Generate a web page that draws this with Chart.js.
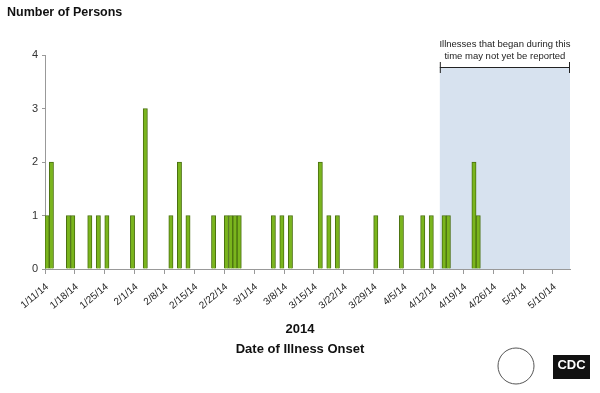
<!DOCTYPE html>
<html>
<head>
<meta charset="utf-8">
<script src="https://cdn.jsdelivr.net/npm/chart.js@4/dist/chart.umd.min.js"></script>
<style>
  html, body { margin: 0; padding: 0; background: #fff; }
  #wrap { width: 600px; height: 393px; position: relative; }
</style>
</head>
<body>
<div id="wrap"><canvas id="chart"></canvas></div>
<script>
// ==== DATA ====
const firstDay = "2014-01-11";      // first day on the axis
const dayCount = 123;               // 1/11/14 .. 5/13/14
const onsetDates = ["1/11/14", "1/12/14", "1/16/14", "1/17/14", "1/21/14", "1/23/14", "1/25/14",
  "1/31/14", "2/3/14", "2/9/14", "2/11/14", "2/13/14", "2/19/14", "2/22/14", "2/23/14", "2/24/14",
  "2/25/14", "3/5/14", "3/7/14", "3/9/14", "3/16/14", "3/18/14", "3/20/14", "3/29/14", "4/4/14",
  "4/9/14", "4/11/14", "4/14/14", "4/15/14", "4/21/14", "4/22/14"];
const onsetCounts = [1, 2, 1, 1, 1, 1, 1,
  1, 3, 1, 2, 1, 1, 1, 1, 1,
  1, 1, 1, 1, 2, 1, 1, 1, 1,
  1, 1, 1, 1, 2, 1];
const yTicks = [0, 1, 2, 3, 4];
const shadeStart = "4/13/14";       // reporting-lag window starts here
const shadeText = ["Illnesses that began during this", "time may not yet be reported"];

// daily category labels
const days = [];
const start = new Date(firstDay + "T00:00:00");
for (let i = 0; i < dayCount; i++) {
  const d = new Date(start.getTime() + i * 86400000);
  days.push((d.getMonth() + 1) + "/" + d.getDate() + "/14");
}
const counts = days.map(d => {
  const k = onsetDates.indexOf(d);
  return k >= 0 ? onsetCounts[k] : 0;
});

const BRACKET_Y = 67.5;

// ==== PLUGINS ====
const shadePlugin = {
  id: "shade",
  beforeDatasetsDraw(chart) {
    const { ctx, chartArea, scales } = chart;
    const x0 = scales.x.getPixelForValue(days.indexOf(shadeStart));
    const x1 = chartArea.right;
    ctx.save();
    ctx.fillStyle = "#d7e2ef";
    ctx.fillRect(x0, BRACKET_Y, x1 - x0, chartArea.bottom - BRACKET_Y);
    ctx.restore();
  },
  afterDraw(chart) {
    const { ctx, chartArea, scales } = chart;
    const x0 = scales.x.getPixelForValue(days.indexOf(shadeStart));
    const x1 = chartArea.right;
    ctx.save();
    // bracket
    ctx.strokeStyle = "#222";
    ctx.lineWidth = 1;
    ctx.beginPath();
    ctx.moveTo(x0, BRACKET_Y); ctx.lineTo(x1, BRACKET_Y);
    ctx.moveTo(x0 + 0.5, 62); ctx.lineTo(x0 + 0.5, 73);
    ctx.moveTo(x1 - 0.5, 62); ctx.lineTo(x1 - 0.5, 73);
    ctx.stroke();
    ctx.fillStyle = "#222";
    ctx.font = "9.5px 'Liberation Sans', Arial, sans-serif";
    ctx.textAlign = "center";
    ctx.textBaseline = "middle";
    ctx.fillText(shadeText[0], (x0 + x1) / 2, 44.5);
    ctx.fillText(shadeText[1], (x0 + x1) / 2, 56.5);

    // titles
    ctx.fillStyle = "#111";
    ctx.font = "bold 12.5px 'Liberation Sans', Arial, sans-serif";
    ctx.textAlign = "left";
    ctx.fillText("Number of Persons", 7, 13);
    ctx.textAlign = "center";
    ctx.font = "bold 13px 'Liberation Sans', Arial, sans-serif";
    ctx.fillText("2014", 300, 329);
    ctx.fillText("Date of Illness Onset", 300, 349);

    // logos (simplified)
    ctx.strokeStyle = "#555";
    ctx.beginPath();
    ctx.arc(516, 366, 18, 0, Math.PI * 2);
    ctx.stroke();
    ctx.fillStyle = "#111";
    ctx.fillRect(553, 355, 37, 24);
    ctx.fillStyle = "#fff";
    ctx.font = "bold 13px 'Liberation Sans', Arial, sans-serif";
    ctx.fillText("CDC", 571.5, 365);
    ctx.restore();
  }
};

// ==== CHART ====
const ctx = document.getElementById("chart").getContext("2d");
new Chart(ctx, {
  type: "bar",
  data: {
    labels: days,
    datasets: [{
      data: counts,
      backgroundColor: "#7ab51d",
      borderColor: "#4a7010",
      borderWidth: 1,
      categoryPercentage: 1,
      barPercentage: 1
    }]
  },
  options: {
    responsive: true,
    maintainAspectRatio: false,
    animation: false,
    layout: { padding: { left: 0, right: 30, top: 55, bottom: 0 } },
    plugins: { legend: { display: false }, tooltip: { enabled: false } },
    scales: {
      x: {
        grid: {
          offset: true,
          drawOnChartArea: false,
          tickLength: 5,
          color: c => (c.index % 7 === 0 ? "#999" : "rgba(0,0,0,0)")
        },
        border: { display: true, color: "#999" },
        ticks: {
          autoSkip: false,
          maxRotation: 40,
          minRotation: 40,
          padding: 7,
          color: "#222",
          font: { family: "'Liberation Sans', Arial, sans-serif", size: 10 },
          callback: (v, i) => (i % 7 === 0 ? days[i] : "")
        },
        afterFit: s => { s.height = 124; }
      },
      y: {
        min: 0,
        max: 4,
        afterBuildTicks: s => { s.ticks = yTicks.map(v => ({ value: v })); },
        grid: { drawOnChartArea: false, tickLength: 3, color: "#999" },
        border: { display: true, color: "#999" },
        ticks: {
          color: "#333",
          padding: 4,
          font: { family: "'Liberation Sans', Arial, sans-serif", size: 11 }
        },
        afterFit: s => { s.width = 45; }
      }
    }
  },
  plugins: [shadePlugin]
});
</script>
</body>
</html>
